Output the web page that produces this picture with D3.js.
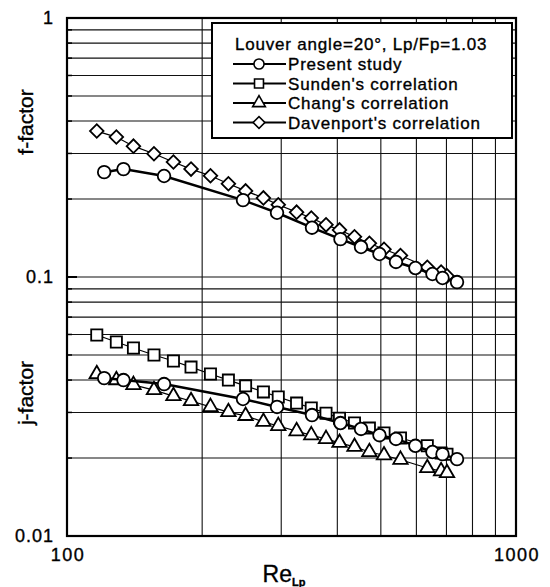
<!DOCTYPE html>
<html lang="en">
<head>
<meta charset="UTF-8">
<title>f and j factor vs Re</title>
<style>
  body { margin: 0; background: #fff; }
  svg text { font-family: "Liberation Sans", Arial, sans-serif; fill: #000; stroke: #000; stroke-width: 0.35px; }
  .grid { stroke: #111; stroke-width: 1.1; }
</style>
</head>
<body>
<svg width="550" height="587"></svg>
<script src="https://cdn.jsdelivr.net/npm/d3@7"></script>
<script>
// Present study (measured)
var presentRe = [121, 133.6, 164.5, 246.6, 293.6, 351.3, 406.5, 451.7, 496.5, 540.4, 597, 651.5, 686, 739];
var presentF  = [0.254, 0.261, 0.2455, 0.198, 0.177, 0.155, 0.140, 0.1306, 0.1227, 0.1143, 0.1083, 0.1027, 0.0991, 0.0956];
var presentJ  = [0.0407, 0.0400, 0.0386, 0.0338, 0.0315, 0.0293, 0.0273, 0.0259, 0.0245, 0.0237, 0.0223, 0.0211, 0.0207, 0.0198];

// Correlations share one Re list
var corrRe = [116.5, 128.8, 140.6, 156.2, 172.6, 188.9, 208.7, 228.8, 249.9, 273.8, 295.5, 324.6, 350, 377.5, 404.5, 436.8, 471.5, 508.2, 553, 634.5, 681, 702];
var sundenJ    = [0.0597, 0.0561, 0.0532, 0.0500, 0.0474, 0.0449, 0.0422, 0.0400, 0.0380, 0.0360, 0.0344, 0.0326, 0.0312, 0.0298, 0.0285, 0.0273, 0.0261, 0.0250, 0.0239, 0.0223, 0.0209, 0.0207];
var changJ     = [0.0422, 0.0400, 0.0383, 0.0366, 0.0347, 0.0332, 0.0315, 0.0301, 0.0291, 0.0276, 0.0266, 0.0254, 0.0245, 0.0237, 0.0229, 0.0221, 0.0211, 0.0205, 0.0197, 0.0183, 0.0178, 0.0175];
var davenportF = [0.366, 0.347, 0.320, 0.299, 0.278, 0.261, 0.246, 0.229, 0.215, 0.202, 0.190, 0.178, 0.169, 0.159, 0.152, 0.143, 0.135, 0.128, 0.121, 0.109, 0.1045, 0.101];

var xTicks = [100, 200, 300, 400, 500, 600, 700, 800, 900, 1000];
var xTickLabels = [100, 1000];
var yTicks = [0.01, 0.02, 0.03, 0.04, 0.05, 0.06, 0.07, 0.08, 0.09, 0.1, 0.2, 0.3, 0.4, 0.5, 0.6, 0.7, 0.8, 0.9, 1];
var yTickLabels = [0.01, 0.1, 1];

var legendTitle = "Louver angle=20°, Lp/Fp=1.03";
var legendNames = ["Present study", "Sunden's correlation", "Chang's correlation", "Davenport's correlation"];

(function () {
  'use strict';

  var L = 67, R = 516, T = 18, B = 536;
  var svg = d3.select("svg");

  var x = d3.scaleLog().domain([100, 1000]).range([L, R]);
  var y = d3.scaleLog().domain([0.01, 1]).range([B, T]);

  // grid
  svg.append("g").selectAll("line").data(xTicks).enter().append("line")
    .attr("class", "grid")
    .attr("x1", function (d) { return x(d); }).attr("x2", function (d) { return x(d); })
    .attr("y1", T).attr("y2", B);
  svg.append("g").selectAll("line").data(yTicks).enter().append("line")
    .attr("class", "grid")
    .attr("x1", L).attr("x2", R)
    .attr("y1", function (d) { return y(d); }).attr("y2", function (d) { return y(d); });

  // inner tick stubs on left axis
  svg.append("g").selectAll("line").data(yTicks).enter().append("line")
    .attr("stroke", "#000")
    .attr("stroke-width", function (d) { return yTickLabels.indexOf(d) >= 0 ? 2 : 1.5; })
    .attr("x1", L).attr("x2", function (d) { return L + (yTickLabels.indexOf(d) >= 0 ? 10 : 5); })
    .attr("y1", function (d) { return y(d); }).attr("y2", function (d) { return y(d); });

  // frame
  svg.append("rect").attr("x", L).attr("y", T).attr("width", R - L).attr("height", B - T)
    .attr("fill", "none").attr("stroke", "#000").attr("stroke-width", 2.2);

  // tick labels
  svg.append("g").selectAll("text").data(yTickLabels).enter().append("text")
    .attr("x", 54).attr("y", function (d) { return y(d) + 6; })
    .attr("text-anchor", "end").attr("font-size", 18).attr("letter-spacing", 1)
    .text(function (d) { return d; });
  svg.append("g").selectAll("text").data(xTickLabels).enter().append("text")
    .attr("x", function (d) { return x(d) + 1; }).attr("y", 561)
    .attr("text-anchor", "middle").attr("font-size", 18).attr("letter-spacing", 1.5)
    .text(function (d) { return d; });

  // axis titles
  var xt = svg.append("text").attr("x", 284).attr("y", 582).attr("text-anchor", "middle").attr("font-size", 23);
  xt.append("tspan").text("Re");
  xt.append("tspan").attr("font-size", 11).attr("font-weight", "bold").attr("dy", 4).text("Lp");
  svg.append("text").attr("transform", "translate(33,122) rotate(-90)")
    .attr("text-anchor", "middle").attr("font-size", 21).text("f-factor");
  svg.append("text").attr("transform", "translate(33,393) rotate(-90)")
    .attr("text-anchor", "middle").attr("font-size", 21).text("j-factor");

  var shapes = {
    circle: d3.symbol().type(d3.symbolCircle).size(125),
    square: d3.symbol().type(d3.symbolSquare).size(125),
    triangle: d3.symbol().type(d3.symbolTriangle).size(90),
    diamond: d3.symbol().type(d3.symbolSquare).size(92)
  };

  function series(xs, ys, shape, lw) {
    var pts = xs.map(function (d, i) { return [x(d), y(ys[i])]; });
    var g = svg.append("g");
    g.append("path").attr("d", d3.line()(pts))
      .attr("fill", "none").attr("stroke", "#000").attr("stroke-width", lw);
    g.selectAll("path.m").data(pts).enter().append("path")
      .attr("class", "m")
      .attr("d", shapes[shape])
      .attr("transform", function (p) {
        return "translate(" + p[0] + "," + p[1] + ")" + (shape === "diamond" ? " rotate(45)" : "");
      })
      .attr("fill", "#fff").attr("stroke", "#000").attr("stroke-width", 1.8);
  }

  series(corrRe, sundenJ, "square", 1.2);
  series(corrRe, changJ, "triangle", 1.2);
  series(corrRe, davenportF, "diamond", 1.2);
  series(presentRe, presentJ, "circle", 2.5);
  series(presentRe, presentF, "circle", 2.5);

  // legend
  var lg = svg.append("g");
  lg.append("rect").attr("x", 212).attr("y", 23).attr("width", 300).attr("height", 115)
    .attr("fill", "#fff").attr("stroke", "#000").attr("stroke-width", 2);
  lg.append("text").attr("x", 235).attr("y", 50).attr("font-size", 17).attr("letter-spacing", 0.8)
    .text(legendTitle);
  var legendShapes = ["circle", "square", "triangle", "diamond"];
  var legendSizes = { circle: 80, square: 80, triangle: 70, diamond: 70 };
  legendNames.forEach(function (name, i) {
    var by = 70 + i * 19.5;
    var cy = by - 6;
    lg.append("line").attr("x1", 233).attr("x2", 286).attr("y1", cy).attr("y2", cy)
      .attr("stroke", "#000").attr("stroke-width", 2.2);
    var s = legendShapes[i];
    lg.append("path")
      .attr("d", d3.symbol().type(s === "circle" ? d3.symbolCircle : s === "triangle" ? d3.symbolTriangle : d3.symbolSquare).size(legendSizes[s]))
      .attr("transform", "translate(259," + cy + ")" + (s === "diamond" ? " rotate(45)" : ""))
      .attr("fill", "#fff").attr("stroke", "#000").attr("stroke-width", 1.6);
    lg.append("text").attr("x", 288).attr("y", by).attr("font-size", 17).attr("letter-spacing", 0.8)
      .text(name);
  });
})();
</script>
</body>
</html>
